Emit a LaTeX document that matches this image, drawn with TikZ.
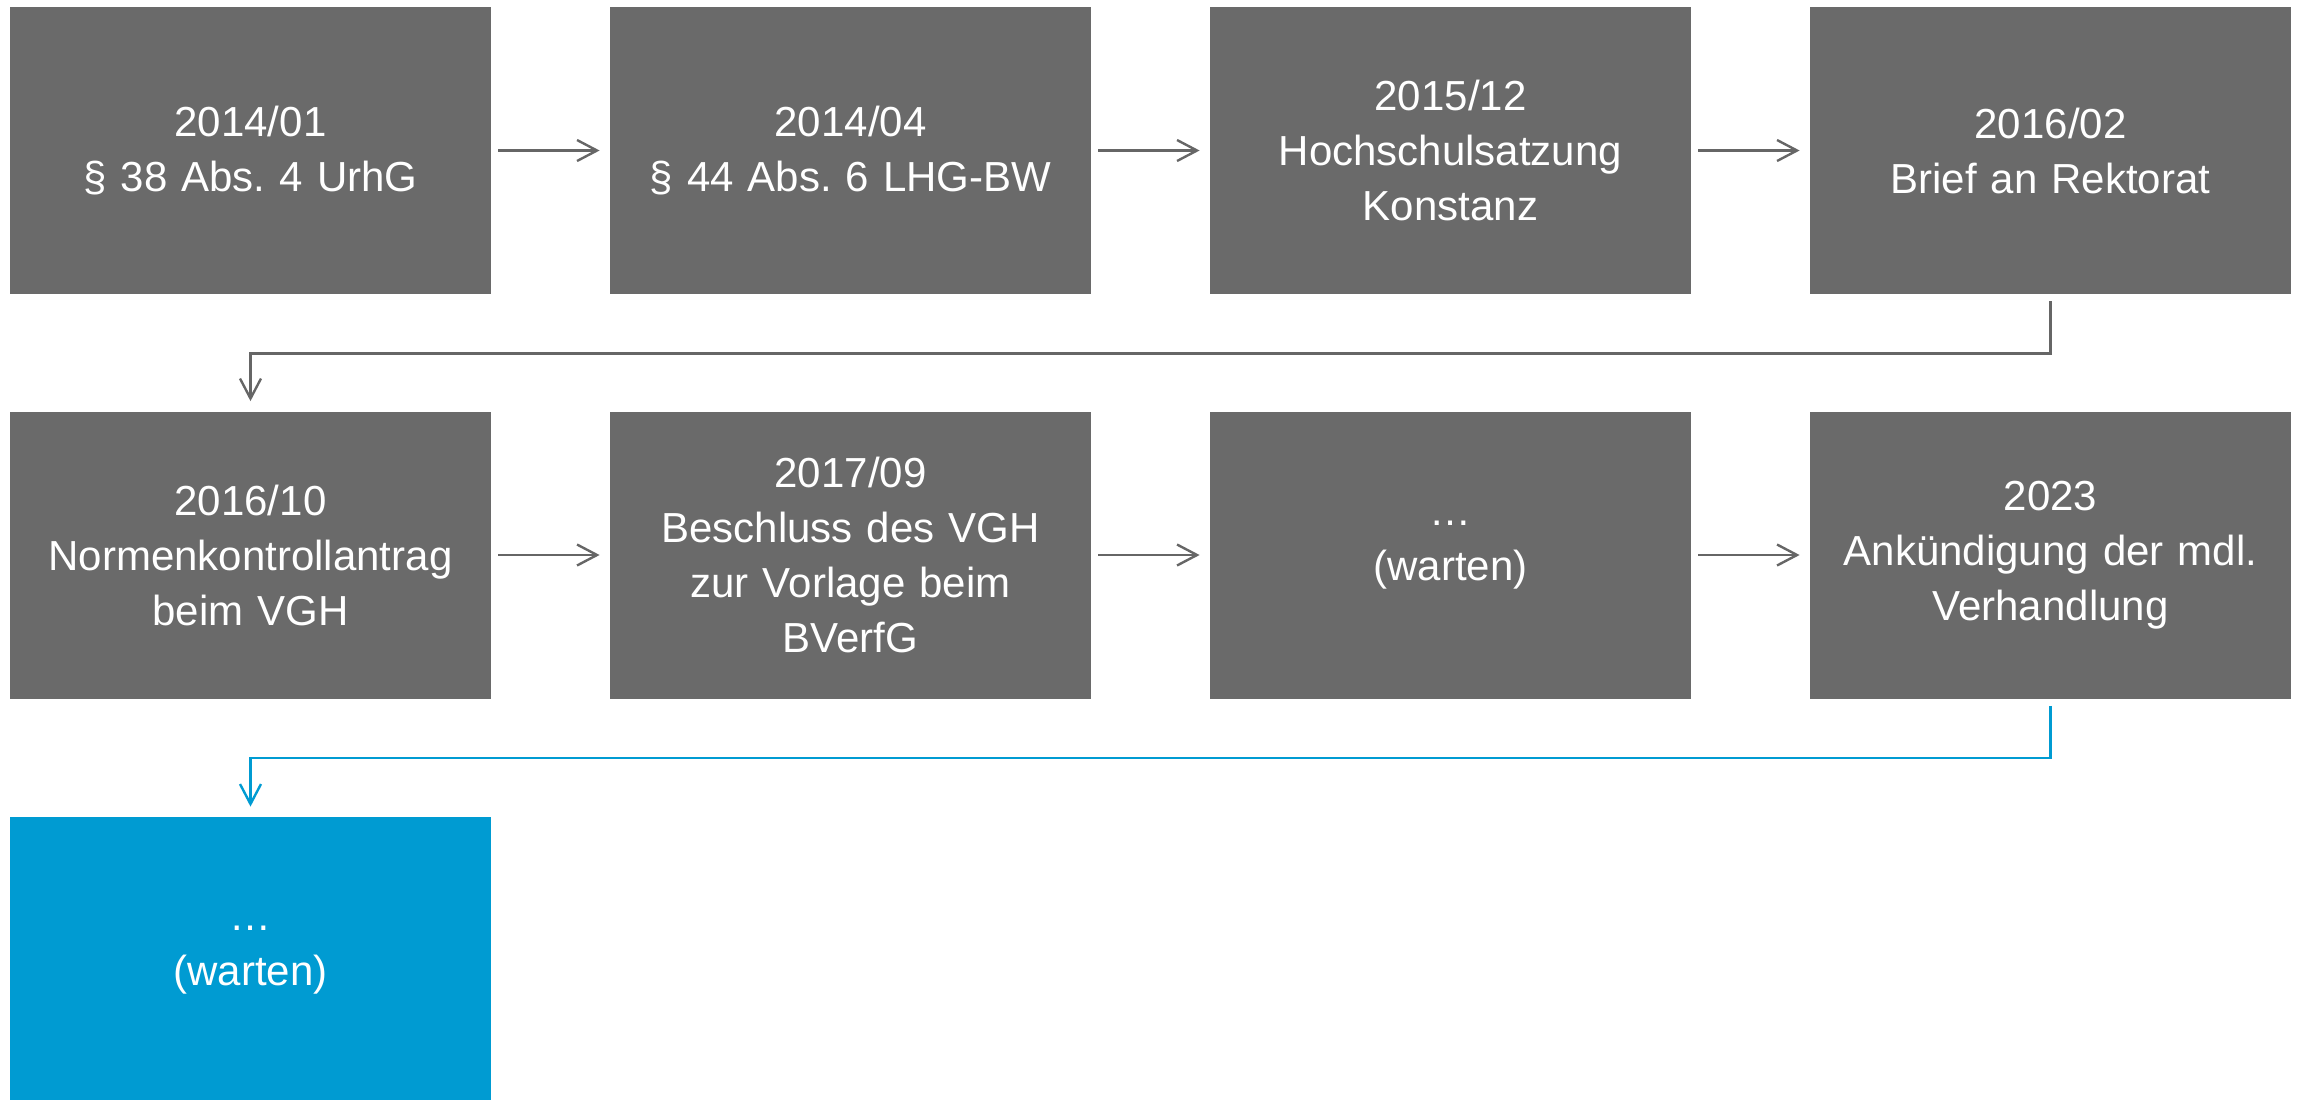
\documentclass[tikz,border=0pt]{standalone}
\usepackage{fontspec}
\setmainfont{Liberation Sans}
\usetikzlibrary{arrows.meta}
\definecolor{boxgray}{HTML}{6A6A6A}
\definecolor{boxblue}{HTML}{009BD2}
\definecolor{linegray}{HTML}{666666}
\frenchspacing
\begin{document}
\begin{tikzpicture}[x=0.5pt,y=-0.5pt,
  evbox/.style={fill=boxgray, text=white, minimum width=240.5pt, minimum height=143.5pt,
    text width=232pt, align=center, inner sep=0pt,
    font=\fontsize{21pt}{27.5pt}\selectfont\frenchspacing},
  bluebox/.style={evbox, fill=boxblue},
  flow/.style={draw=linegray, line width=1.2pt,
    -{Straight Barb[length=10pt,width=10.5pt,line width=1.2pt]},
    shorten <=3.5pt, shorten >=5pt},
  blueflow/.style={flow, draw=boxblue}]
\useasboundingbox (0,0) rectangle (2303,1099);
\node[evbox] (b1) at (250.5,150.5) {2014/01\\§ 38 Abs. 4 UrhG};
\node[evbox] (b2) at (850.5,150.5) {2014/04\\§ 44 Abs. 6 LHG-BW};
\node[evbox] (b3) at (1450.5,150.5) {2015/12\\Hochschulsatzung\\Konstanz};
\node[evbox] (b4) at (2050.5,150.5) {2016/02\\Brief an Rektorat};
\node[evbox] (b5) at (250.5,555) {2016/10\\Normenkontrollantrag\\beim VGH};
\node[evbox] (b6) at (850.5,555) {2017/09\\Beschluss des VGH\\zur Vorlage beim\\BVerfG};
\node[evbox] (b7) at (1450.5,555) {…\\(warten)};
\node[evbox] (b8) at (2050.5,555) {2023\\Ankündigung der mdl.\\Verhandlung};
\node[bluebox] (b9) at (250.5,960.5) {…\\(warten)};
\draw[flow] (b1) -- (b2);
\draw[flow] (b2) -- (b3);
\draw[flow] (b3) -- (b4);
\draw[flow] (b5) -- (b6);
\draw[flow] (b6) -- (b7);
\draw[flow] (b7) -- (b8);
\draw[flow] (b4.south) -- ++(0,59) -| (b5.north);
\draw[blueflow] (b8.south) -- ++(0,59) -| (b9.north);
\end{tikzpicture}
\end{document}
